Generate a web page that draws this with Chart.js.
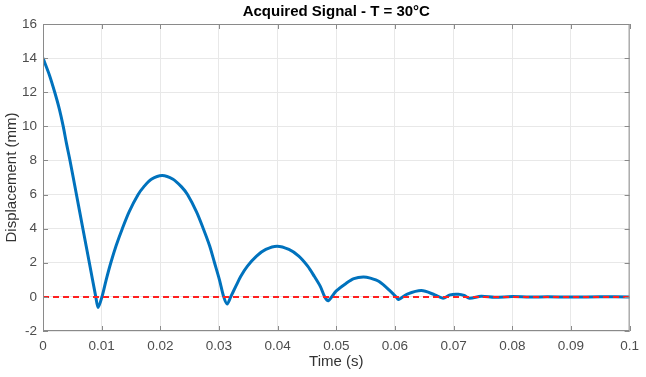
<!DOCTYPE html>
<html>
<head>
<meta charset="utf-8">
<script src="https://cdn.jsdelivr.net/npm/chart.js@4/dist/chart.umd.min.js"></script>
<style>
  html, body { margin: 0; padding: 0; background: #fff; }
  #wrap { width: 646px; height: 377px; }
</style>
</head>
<body>
<div id="wrap"><canvas id="myChart" width="646" height="377"></canvas></div>
<script>
// values
const time = [
  0, 0.0011, 0.0020, 0.0028, 0.00345, 0.0040, 0.0046, 0.0057, 0.0068, 0.0079, 0.0090, 0.0094,
  0.01005, 0.01077, 0.01156, 0.01246, 0.01352, 0.0147, 0.01622, 0.01717, 0.01847, 0.02032,
  0.02217, 0.02362, 0.02463, 0.02615, 0.02733, 0.0284, 0.02924, 0.03008, 0.03081, 0.0314,
  0.0320, 0.03288, 0.03372, 0.03485, 0.0364, 0.03798, 0.0399,
  0.04192, 0.0436, 0.04512, 0.04624, 0.04725, 0.04803, 0.04865,
  0.0500, 0.0517, 0.0530, 0.0546, 0.0558, 0.0573, 0.0593, 0.0602, 0.0606,
  0.0621, 0.0645, 0.0668, 0.0682, 0.0694, 0.0708, 0.0718, 0.0727, 0.0747,
  0.0770, 0.0800, 0.0830, 0.0860, 0.0900, 0.0950, 0.1000]
const displacement = [
  14.0, 13.0, 12.0, 11.0, 10.0, 9.0, 8.0, 6.0, 4.0, 2.0, 0.0, -0.62,
  0.0, 1.0, 2.0, 3.0, 4.0, 5.0, 6.0, 6.45, 6.9, 7.12,
  6.9, 6.45, 6.0, 5.0, 4.0, 3.0, 2.0, 1.0, 0.0, -0.42,
  0.0, 0.63, 1.21, 1.8, 2.39, 2.78, 2.97,
  2.78, 2.39, 1.8, 1.21, 0.63, 0.0, -0.22,
  0.35, 0.8, 1.07, 1.17, 1.1, 0.9, 0.31, 0.0, -0.15,
  0.16, 0.37, 0.12, -0.08, 0.12, 0.15, 0.08, -0.08, 0.04,
  -0.02, 0.02, -0.01, 0.01, -0.01, 0.01, 0.0]
const refTime = [0, 0.1]
const refLevel = [0, 0]
const xTicks = [0, 0.01, 0.02, 0.03, 0.04, 0.05, 0.06, 0.07, 0.08, 0.09, 0.1]
const yTicks = [-2, 0, 2, 4, 6, 8, 10, 12, 14, 16]
const titleText = 'Acquired Signal - T = 30°C'

const FONT = 'Liberation Sans, Arial, Helvetica, sans-serif'
const signal = time.map((t, i) => ({ x: t, y: displacement[i] }))
const ref = refTime.map((t, i) => ({ x: t, y: refLevel[i] }))

// matlab style box + inward ticks + title centred on the axes
const boxPlugin = {
  id: 'box',
  afterDatasetsDraw(chart) {
    const { ctx, chartArea: a, scales } = chart
    ctx.save()
    ctx.strokeStyle = '#8a8a8a'
    ctx.lineWidth = 1
    ctx.strokeRect(a.left + 0.5, a.top + 0.5, a.right - a.left - 1, a.bottom - a.top - 1)
    ctx.beginPath()
    xTicks.forEach(v => {
      const px = Math.round(scales.x.getPixelForValue(v)) + 0.5
      ctx.moveTo(px, a.bottom); ctx.lineTo(px, a.bottom - 5)
      ctx.moveTo(px, a.top); ctx.lineTo(px, a.top + 5)
    })
    yTicks.forEach(v => {
      const py = Math.round(scales.y.getPixelForValue(v)) + 0.5
      ctx.moveTo(a.left, py); ctx.lineTo(a.left + 5, py)
      ctx.moveTo(a.right, py); ctx.lineTo(a.right - 5, py)
    })
    ctx.stroke()
    ctx.fillStyle = '#000'
    ctx.font = 'bold 15px ' + FONT
    ctx.textAlign = 'center'
    ctx.textBaseline = 'middle'
    ctx.fillText(titleText, (a.left + a.right) / 2, a.top / 2)
    ctx.restore()
  }
}

new Chart('myChart', {
  type: 'line',
  data: {
    datasets: [{
      data: ref,
      borderColor: '#ff2020',
      borderWidth: 2,
      borderDash: [6, 4],
      pointRadius: 0,
      order: 0
    }, {
      data: signal,
      borderColor: '#0072bd',
      borderWidth: 3,
      pointRadius: 0,
      tension: 0.3,
      order: 1
    }]
  },
  options: {
    responsive: false,
    animation: false,
    layout: { padding: { top: 24, right: 9, left: 0, bottom: 0 } },
    plugins: {
      legend: { display: false },
      tooltip: { enabled: false },
      title: { display: false }
    },
    scales: {
      x: {
        type: 'linear',
        min: 0, max: 0.1,
        afterBuildTicks: s => { s.ticks = xTicks.map(v => ({ value: v })) },
        afterFit: s => { s.height = 46 },
        ticks: {
          color: '#4d4d4d',
          font: { family: FONT, size: 13.5 },
          padding: 7,
          maxRotation: 0,
          callback: v => String(+v.toFixed(2))
        },
        grid: { color: '#e8e8e8', drawTicks: false },
        border: { display: false },
        title: {
          display: true,
          text: 'Time (s)',
          color: '#333',
          font: { family: FONT, size: 15 },
          padding: { top: 0, bottom: 6 }
        }
      },
      y: {
        min: -2, max: 16,
        afterBuildTicks: s => { s.ticks = yTicks.map(v => ({ value: v })) },
        afterFit: s => { s.width = 43 },
        ticks: {
          color: '#4d4d4d',
          font: { family: FONT, size: 13.5 },
          padding: 6
        },
        grid: { color: '#e8e8e8', drawTicks: false },
        border: { display: false },
        title: {
          display: true,
          text: 'Displacement (mm)',
          color: '#333',
          font: { family: FONT, size: 15 },
          padding: { top: 3, bottom: 0 }
        }
      }
    }
  },
  plugins: [boxPlugin]
})
</script>
</body>
</html>
